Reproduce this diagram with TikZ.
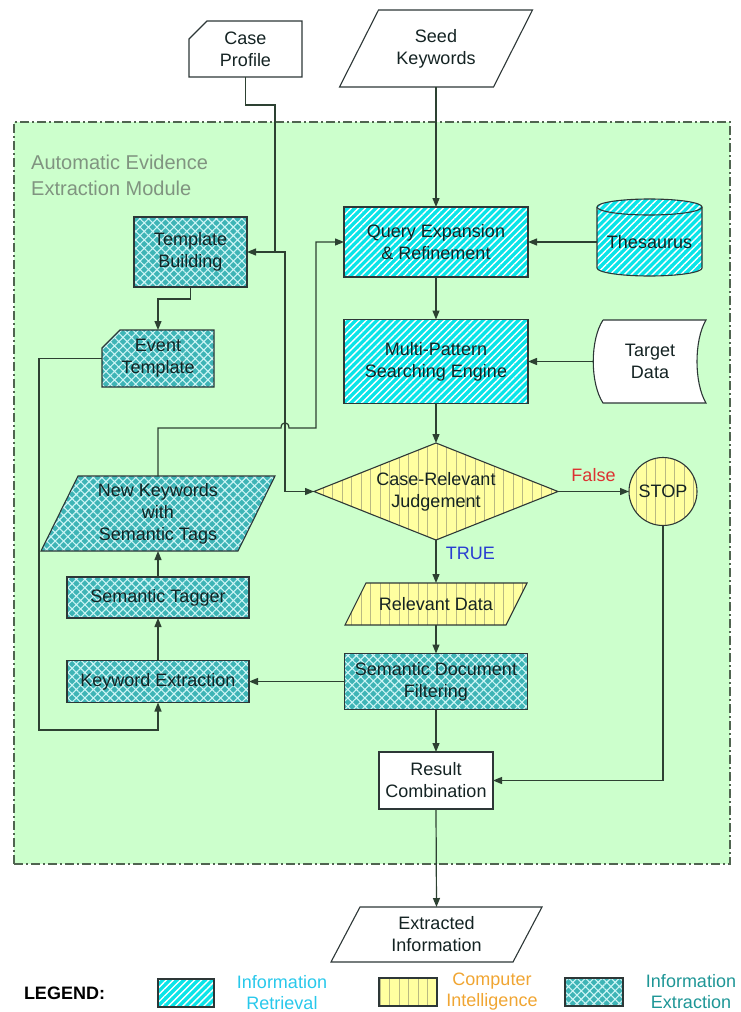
\documentclass[tikz,border=0pt]{standalone}
\usepackage{fontspec}
\setmainfont{Liberation Sans}
\usetikzlibrary{arrows.meta,calc,patterns.meta,shapes.geometric}
\pgfdeclarelayer{bg}
\pgfsetlayers{bg,main}
\definecolor{modgreen}{RGB}{204,255,204}
\definecolor{modborder}{RGB}{80,100,80}
\definecolor{titlegray}{RGB}{128,148,128}
\definecolor{linec}{RGB}{45,65,50}
\definecolor{edgec}{RGB}{45,55,55}
\definecolor{txtc}{RGB}{20,35,35}
\definecolor{irbase}{RGB}{10,228,232}
\definecolor{iebase}{RGB}{62,180,182}
\definecolor{iemesh}{RGB}{205,245,245}
\definecolor{cibase}{RGB}{255,255,160}
\definecolor{ciline}{RGB}{185,185,130}
\definecolor{falsered}{RGB}{220,50,50}
\definecolor{trueblue}{RGB}{40,60,210}
\definecolor{lgir}{RGB}{40,200,235}
\definecolor{lgci}{RGB}{240,165,50}
\definecolor{lgie}{RGB}{30,150,150}
\newcommand\paral[3]{\begin{pgfonlayer}{bg}\path[#3] ($(#1.north west)+(#2,0)$) -- (#1.north east) -- ($(#1.south east)-(#2,0)$) -- (#1.south west) -- cycle;\end{pgfonlayer}}
\newcommand\mkcard[3]{\begin{pgfonlayer}{bg}\path[#3] ($(#1.north west)+(0,#2)$) -- ($(#1.north west)+(#2,0)$) -- (#1.north east) -- (#1.south east) -- (#1.south west) -- cycle;\end{pgfonlayer}}
\begin{document}
\begin{tikzpicture}[x=1pt,y=-1pt,
  base/.style={inner sep=0pt, outer sep=0pt, align=center, text=txtc, font=\fontsize{18}{22}\selectfont},
  box/.style={base, rectangle, draw=edgec, line width=1.1pt},
  irstyle/.style={preaction={fill=irbase}, pattern={Lines[angle=45,distance=5pt,line width=1.4pt]}, pattern color=white},
  iestyle/.style={preaction={fill=iebase}, pattern={Hatch[angle=45,distance=6pt,line width=1.1pt]}, pattern color=iemesh},
  cistyle/.style={preaction={fill=cibase}, pattern={Lines[angle=90,distance=9.5pt,line width=0.8pt]}, pattern color=ciline},
  outl/.style={draw=edgec, line width=1.1pt},
  conn/.style={draw=linec, line width=1.2pt},
  arr/.style={conn, -{Triangle[length=9pt,width=7pt]}},
  lgtext/.style={base, font=\fontsize{18}{21}\selectfont},
]
\useasboundingbox (0,0) rectangle (740,1012);
\begin{pgfonlayer}{bg}
\node[draw=modborder, line width=1.2pt, dash pattern=on 9pt off 3pt on 2pt off 3pt, fill=modgreen, minimum width=716pt, minimum height=742pt, inner sep=0pt, outer sep=0pt] (module) at (372,493) {};
\end{pgfonlayer}
\node[anchor=north west, align=left, text=titlegray, font=\fontsize{20}{26}\selectfont, inner sep=0pt] (title) at (31,155) {Automatic Evidence\\Extraction Module};

% top inputs
\node[base, minimum width=113pt, minimum height=56pt] (case) at (245.5,49) {Case\\Profile};
\mkcard{case}{18}{outl, fill=white}
\node[base, minimum width=193pt, minimum height=77pt] (seed) at (436,48.5) {Seed\\Keywords};
\paral{seed}{39}{outl, fill=white}

% right column
\node[box, irstyle, minimum width=184pt, minimum height=70pt] (qe) at (436,242) {Query Expansion\\\& Refinement};
\node[base, minimum width=105pt] (thes) at (649.5,242) {Thesaurus};
\begin{pgfonlayer}{bg}
\draw[outl, irstyle] (597,207) -- (597,268) arc[start angle=180,end angle=360,x radius=52.5pt,y radius=8pt] -- (702,207) arc[start angle=0,end angle=180,x radius=52.5pt,y radius=8pt] -- cycle;
\draw[outl] (597,207) arc[start angle=180,end angle=360,x radius=52.5pt,y radius=8pt];
\draw[outl, fill=white] (603,320) -- (706,320) .. controls (694,340) and (694,383) .. (706,403) -- (603,403) .. controls (590,383) and (590,340) .. (603,320);
\end{pgfonlayer}
\node[box, irstyle, minimum width=184pt, minimum height=84pt] (mp) at (436,361.5) {Multi-Pattern\\Searching Engine};
\node[base, minimum width=114pt] (target) at (650,361.5) {Target\\Data};
\node[base, diamond, draw=edgec, line width=1.1pt, cistyle, aspect=2.5, minimum width=244pt, minimum height=97pt] (crj) at (436,491.5) {Case-Relevant\\Judgement};
\node[base, circle, draw=edgec, line width=1.1pt, cistyle, minimum size=68pt] (stop) at (663,491.5) {STOP};
\node[base, minimum width=182pt, minimum height=42pt] (rd) at (436,604) {Relevant Data};
\paral{rd}{21}{outl, cistyle}
\node[box, iestyle, minimum width=183pt, minimum height=56pt] (sdf) at (436,681.5) {Semantic Document\\Filtering};
\node[box, fill=white, minimum width=114pt, minimum height=57pt] (rc) at (436,780.5) {Result\\Combination};
\node[base, minimum width=211pt, minimum height=55pt] (ei) at (436.5,934.5) {Extracted\\Information};
\paral{ei}{29}{outl, fill=white}

% left column
\node[box, iestyle, minimum width=113pt, minimum height=70pt] (tb) at (190.5,252) {Template\\Building};
\node[base, minimum width=112pt, minimum height=57pt] (et) at (158,358.5) {Event\\Template};
\mkcard{et}{18}{outl, iestyle}
\node[base, minimum width=234pt, minimum height=75pt] (nk) at (158,513.5) {New Keywords\\with\\Semantic Tags};
\paral{nk}{37}{outl, iestyle}
\node[box, iestyle, minimum width=182pt, minimum height=41pt] (st) at (158,597.5) {Semantic Tagger};
\node[box, iestyle, minimum width=182pt, minimum height=42pt] (ke) at (158,681.5) {Keyword Extraction};

% connectors
\coordinate (j1) at (275,252);
\draw[arr] (case.south) |- (275,105) -- (j1) -- (tb.east);
\draw[arr] (j1) -- (285,252) |- (crj.west);
\draw[arr] (seed.south) -- (qe.north);
\draw[arr] (thes.west) -- (qe.east);
\draw[arr] (qe.south) -- (mp.north);
\draw[arr] (target.west) -- (mp.east);
\draw[arr] (mp.south) -- (crj.north);
\draw[arr] (crj.east) -- node[above=6pt, text=falsered, font=\fontsize{18}{22}\selectfont] (lfalse) {False} (stop.west);
\draw[arr] (crj.south) -- node[right=6pt, text=trueblue, font=\fontsize{18}{22}\selectfont, pos=0.3] (ltrue) {TRUE} (rd.north);
\draw[arr] (rd.south) -- (sdf.north);
\draw[arr] (sdf.west) -- (ke.east);
\draw[arr] (sdf.south) -- (rc.north);
\draw[arr] (stop.south) |- (rc.east);
\draw[arr] (rc.south) -- (ei.north);
\draw[arr] (tb.south) -- ++(0,12) -| (et.north);
\draw[arr] (et.west) -| (39,730) -| (ke.south);
\draw[arr] (ke.north) -- (st.south);
\draw[arr] (st.north) -- (nk.south);
\draw[arr] (nk.north) -- (158,428) -- (281,428) .. controls (281,421) and (289,421) .. (289,428) -- (316,428) |- (qe.west);

% legend
\node[base, anchor=west, text=black, font=\fontsize{18}{22}\selectfont\bfseries] (lgd) at (24,993) {LEGEND:};
\node[box, irstyle, minimum width=56pt, minimum height=28pt] (lg1) at (186,993) {};
\node[lgtext, text=lgir] (lt1) at (282,993) {Information\\Retrieval};
\node[box, cistyle, minimum width=58pt, minimum height=28pt] (lg2) at (408,992) {};
\node[lgtext, text=lgci] (lt2) at (492,992) {Computer\\Intelligence};
\node[box, iestyle, minimum width=58pt, minimum height=28pt] (lg3) at (594,992) {};
\node[lgtext, text=lgie] (lt3) at (691,992) {Information\\Extraction};
\end{tikzpicture}
\end{document}
